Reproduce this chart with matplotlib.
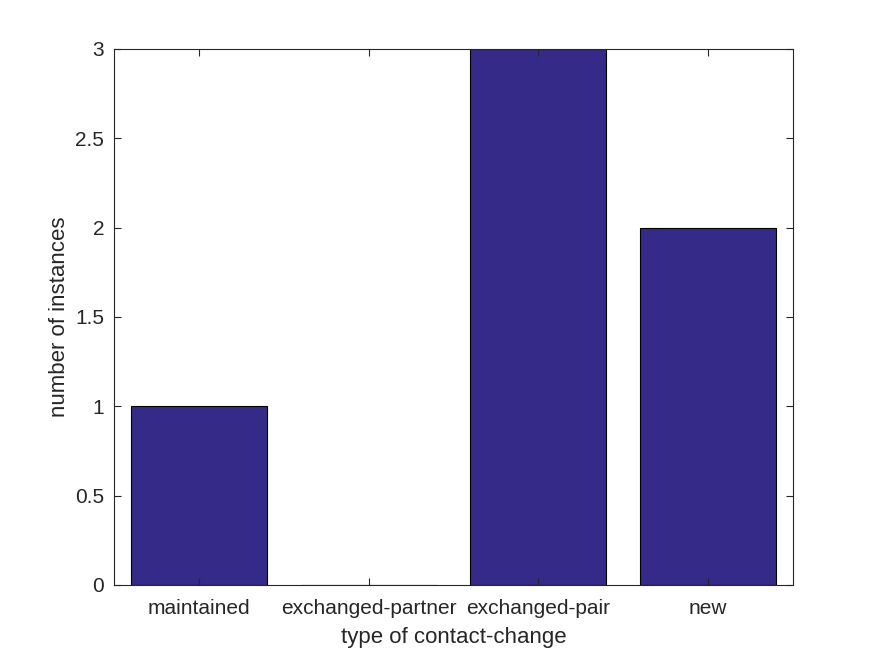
import matplotlib
matplotlib.use("Agg")
import matplotlib.pyplot as plt

categories = ["maintained", "exchanged-partner", "exchanged-pair", "new"]
counts = [1, 0, 3, 2]
yticks = [0, 0.5, 1, 1.5, 2, 2.5, 3]
ytick_labels = ["0", "0.5", "1", "1.5", "2", "2.5", "3"]

plt.rcParams['font.family'] = ['Liberation Sans', 'DejaVu Sans']
fig = plt.figure(figsize=(8.75, 6.56), dpi=100)
ax = fig.add_axes([114/875, 1-585/656, (793-114)/875, (585-49)/656])
x = list(range(1, len(categories)+1))
ax.bar(x, counts, width=0.8, color='#352a87', edgecolor='black', linewidth=0.8)
ax.set_xlim(0.5, 4.5)
ax.set_ylim(0, 3)
ax.set_xticks(x)
ax.set_xticklabels(categories)
ax.set_yticks(yticks)
ax.set_yticklabels(ytick_labels)
ac = '#262626'
for s in ax.spines.values():
    s.set_color(ac)
    s.set_linewidth(0.8)
ax.tick_params(direction='in', top=True, right=True, length=5, width=0.8,
               colors=ac, labelsize=15)
ax.tick_params(axis='y', pad=7)
ax.tick_params(axis='x', pad=10)
ax.set_xlabel('type of contact-change', fontsize=16, color=ac, labelpad=6.5)
ax.set_ylabel('number of instances', fontsize=16, color=ac, labelpad=4)
fig.savefig('out.png', dpi=100)
